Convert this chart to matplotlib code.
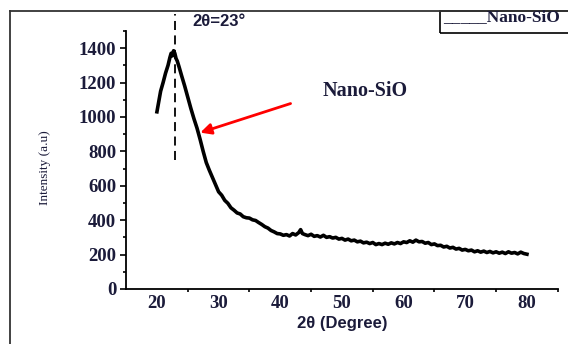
import numpy as np
import matplotlib.pyplot as plt
from matplotlib.lines import Line2D
from matplotlib.patches import Rectangle

# XRD pattern of nano-SiO2
two_theta = [20.0, 20.3, 20.6, 21.0, 21.4, 21.8, 22.1, 22.3, 22.5, 22.7, 22.9, 23.1,
             23.3, 23.6, 24.0, 24.5, 25.0, 25.5, 26.0, 26.5, 27.0, 27.5, 28.0, 28.5,
             29.0, 29.5, 30.0, 30.5, 31.0, 31.5, 32.0, 32.5, 33.0, 33.5, 34.0, 34.5,
             35.0, 35.5, 36.0, 36.5, 37.0, 37.5, 38.0, 38.5, 39.0, 39.5, 40.0, 40.5,
             41.0, 41.5, 42.0, 42.5, 43.0, 43.3, 43.6, 44.0, 44.5, 45.0, 45.5, 46.0,
             46.5, 47.0, 47.5, 48.0, 48.5, 49.0, 49.5, 50.0, 50.5, 51.0, 51.5, 52.0,
             52.5, 53.0, 53.5, 54.0, 54.5, 55.0, 55.5, 56.0, 56.5, 57.0, 57.5, 58.0,
             58.5, 59.0, 59.5, 60.0, 60.5, 61.0, 61.5, 62.0, 62.5, 63.0, 63.5, 64.0,
             64.5, 65.0, 65.5, 66.0, 66.5, 67.0, 67.5, 68.0, 68.5, 69.0, 69.5, 70.0,
             70.5, 71.0, 71.5, 72.0, 72.5, 73.0, 73.5, 74.0, 74.5, 75.0, 75.5, 76.0,
             76.5, 77.0, 77.5, 78.0, 78.5, 79.0, 79.5, 80.0]
intensity = [1030, 1090, 1150, 1200, 1255, 1300, 1345, 1370, 1355, 1385, 1370, 1340,
             1325, 1290, 1240, 1180, 1115, 1050, 990, 935, 870, 800, 735, 690,
             648, 605, 565, 545, 515, 498, 472, 458, 442, 436, 420, 414,
             412, 402, 398, 386, 375, 362, 354, 340, 332, 322, 320, 312,
             316, 308, 322, 314, 328, 345, 322, 316, 310, 318, 306, 310,
             302, 312, 300, 304, 296, 300, 290, 294, 284, 290, 280, 284,
             274, 278, 268, 272, 264, 270, 258, 264, 258, 266, 260, 268,
             262, 270, 264, 274, 270, 280, 272, 284, 274, 276, 266, 270,
             258, 262, 252, 254, 244, 248, 238, 242, 232, 236, 226, 230,
             222, 226, 216, 222, 214, 220, 212, 218, 210, 216, 208, 214,
             206, 216, 208, 212, 204, 214, 206, 202]

x_ticks = [20, 30, 40, 50, 60, 70, 80]
y_ticks = [0, 200, 400, 600, 800, 1000, 1200, 1400]
peak_pos = 23

tick_col = '#1b1b3a'

fig = plt.figure(figsize=(5.68, 3.44), dpi=100)
ax = fig.add_axes([0.222, 0.16, 0.76, 0.75])

ax.plot(two_theta, intensity, color='black', lw=2.6)

# dashed marker line at the peak
ax.plot([peak_pos, peak_pos], [750, 1600], color='black', lw=1.3,
        dashes=(5, 3), clip_on=False)
ax.text(25.8, 1556, '2\u03b8=23\u00b0', fontsize=12, fontweight='bold',
        family='Liberation Sans', color=tick_col, va='center', ha='left')

# arrow and label
ax.annotate('', xy=(26.6, 904), xytext=(42.1, 1083),
            arrowprops=dict(arrowstyle='-|>', color='red', lw=2, mutation_scale=16))
ax.text(46.8, 1150, 'Nano-SiO', fontsize=14.5, fontweight='bold',
        family='Liberation Serif', color=tick_col, va='center', ha='left')

ax.set_xlim(15, 85)
ax.set_ylim(0, 1500)
ax.set_xticks(x_ticks)
ax.set_yticks(y_ticks)
ax.set_xticks([25, 35, 45, 55, 65, 75, 85], minor=True)
ax.set_yticks([100, 300, 500, 700, 900, 1100, 1300, 1500], minor=True)
ax.spines['top'].set_visible(False)
ax.spines['right'].set_visible(False)
ax.spines['left'].set_linewidth(1.3)
ax.spines['bottom'].set_linewidth(1.3)
ax.tick_params(which='major', direction='out', length=4, width=1.2, colors='black',
               labelcolor=tick_col, pad=3)
ax.tick_params(which='minor', direction='out', length=2.5, width=1.2)
ax.tick_params(axis='x', which='major', length=0, pad=4)
for lab in ax.get_xticklabels() + ax.get_yticklabels():
    lab.set_family('Liberation Serif')
    lab.set_fontweight('bold')
    lab.set_fontsize(13.5)

fig.text(0.602, 0.061, '2\u03b8 (Degree)', fontsize=12, fontweight='bold',
         family='Liberation Sans', color=tick_col, ha='center', va='center')
fig.text(0.079, 0.514, 'Intensity (a.u)', fontsize=9.5, family='Liberation Serif',
         rotation=90, ha='center', va='center', color=tick_col)

# outer frame of the pasted figure
fig.add_artist(Line2D([0.0176, 0.0176], [0.0, 0.968], color='#333333', lw=1.3,
                      transform=fig.transFigure))
fig.add_artist(Line2D([0.0176, 1.0], [0.968, 0.968], color='#333333', lw=1.3,
                      transform=fig.transFigure))
# legend box (cut at the right edge)
fig.add_artist(Rectangle((0.775, 0.905), 0.3, 0.063, fill=False, ec='black',
                         lw=1.2, transform=fig.transFigure))
fig.text(0.781, 0.95, '_____Nano-SiO', fontsize=12.5, fontweight='bold',
         family='Liberation Serif', color=tick_col, ha='left', va='center')

fig.savefig('out.png', dpi=100)
